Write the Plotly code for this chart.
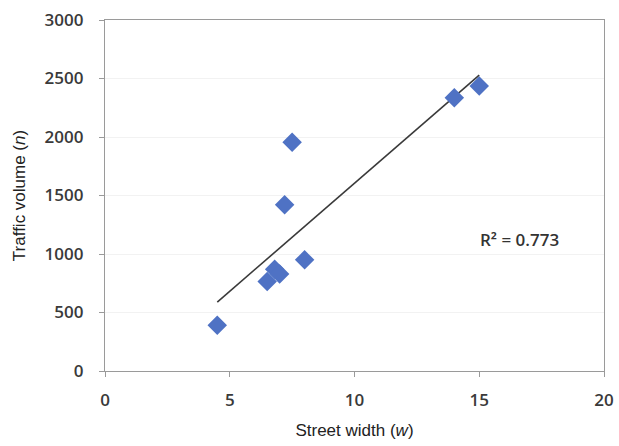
import numpy as np
import plotly.graph_objects as go

street_width = [4.5, 6.5, 6.8, 7.0, 7.2, 7.5, 8.0, 14.0, 15.0]
traffic_volume = [390, 765, 870, 830, 1420, 1955, 950, 2335, 2435]
r2_label = "R² = 0.773"
x_ticks = [0, 5, 10, 15, 20]
y_ticks = [0, 500, 1000, 1500, 2000, 2500, 3000]

slope, intercept = np.polyfit(street_width, traffic_volume, 1)
fit_x = [min(street_width), max(street_width)]
fit_y = [slope * v + intercept for v in fit_x]

fig = go.Figure()
fig.add_trace(go.Scatter(
    x=fit_x, y=fit_y, mode="lines",
    line=dict(color="#3a3a3a", width=1.6),
    showlegend=False, hoverinfo="skip"))
fig.add_trace(go.Scatter(
    x=street_width, y=traffic_volume, mode="markers",
    marker=dict(symbol="diamond", size=15, color="#4F72C4",
                line=dict(width=0)),
    showlegend=False))

fig.add_annotation(x=16.6, y=1120, text=r2_label, showarrow=False,
                   font=dict(family="Open Sans, Liberation Sans", size=17,
                             color="#333333", weight=600))

tick_font = dict(family="Open Sans, Liberation Sans", size=17, color="#3a3a3a", weight=600)
title_font = dict(family="Liberation Sans, Arial", size=17, color="#222222")

axis_common = dict(
    showline=True, linecolor="#9a9a9a", linewidth=1.2, mirror=True,
    ticks="outside", ticklen=5, tickcolor="#9a9a9a",
    tickfont=tick_font, zeroline=False, automargin=False,
)

fig.update_xaxes(range=[0, 20], tickvals=x_ticks, showgrid=False,
                 ticklabelstandoff=8,
                 title=dict(text="Street width (<i>w</i>)", standoff=14, font=title_font),
                 **axis_common)
fig.update_yaxes(range=[0, 3000], tickvals=y_ticks, showgrid=True,
                 gridcolor="#f2f2f2", gridwidth=1,
                 ticklabelstandoff=12,
                 title=dict(text="Traffic volume (<i>n</i>)", standoff=14, font=title_font),
                 **axis_common)

fig.update_layout(
    width=619, height=446,
    margin=dict(l=105, r=15, t=20, b=75),
    plot_bgcolor="white", paper_bgcolor="white",
)

fig.write_html("out.html")
